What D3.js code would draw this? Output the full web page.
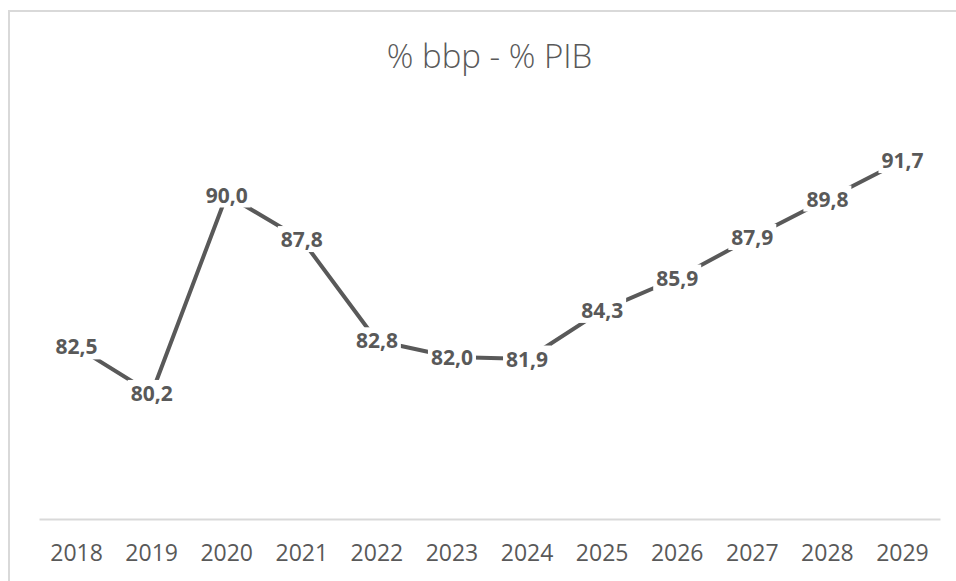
<!DOCTYPE html>
<html>
<head>
<meta charset="utf-8">
<script src="https://cdn.jsdelivr.net/npm/d3@7"></script>
<style>
  html, body { margin: 0; padding: 0; background: white; }
  svg { display: block; font-family: 'Open Sans', sans-serif; }
</style>
</head>
<body>
<div id="chart"></div>
<script>
const years = ['2018', '2019', '2020', '2021', '2022', '2023', '2024', '2025', '2026', '2027', '2028', '2029'];
const values = [82.5, 80.2, 90.0, 87.8, 82.8, 82.0, 81.9, 84.3, 85.9, 87.9, 89.8, 91.7];
const title = '% bbp - % PIB';

const svgWidth = 956;
const svgHeight = 581;

//plot area inside the chart frame
const plot = {left: 39, right: 940, top: 114, bottom: 519};

const textColor = '#595959';
const gridColor = '#d9d9d9';

const svg = d3.select('#chart')
              .append('svg')
              .attr('width', svgWidth)
              .attr('height', svgHeight);

//chart frame, runs off the right and bottom of the page
svg.append('rect')
   .attr('x', 9)
   .attr('y', 11)
   .attr('width', 1000)
   .attr('height', 1000)
   .attr('fill', 'white')
   .attr('stroke', gridColor)
   .attr('stroke-width', 2);

const xScale = d3.scaleBand().domain(years).range([plot.left, plot.right]);
const yScale = d3.scaleLinear().domain([74, 94]).range([plot.bottom, plot.top]);
const xCenter = d => xScale(d) + xScale.bandwidth() / 2;

//title
svg.append('text')
   .text(title)
   .attr('x', (plot.left + plot.right) / 2)
   .attr('y', 68)
   .attr('text-anchor', 'middle')
   .attr('fill', textColor)
   .style('font-size', '33px')
   .style('font-weight', 300);

//x axis, line only, labels below
const xAxis = d3.axisBottom(xScale).tickSize(0).tickPadding(26);
const axisG = svg.append('g')
                 .attr('transform', `translate(0,${plot.bottom})`)
                 .call(xAxis);
axisG.select('.domain').attr('stroke', gridColor).attr('stroke-width', 2);
axisG.selectAll('.tick text')
     .attr('fill', textColor)
     .style('font-size', '23px')
     .style('font-family', "'Open Sans', sans-serif");

//series line
const line = d3.line()
               .x((d, i) => xCenter(years[i]))
               .y(d => yScale(d));

svg.append('path')
   .datum(values)
   .attr('d', line)
   .attr('fill', 'none')
   .attr('stroke', textColor)
   .attr('stroke-width', 4)
   .attr('stroke-linejoin', 'round');

//data labels centred on points, white box hides the line under them
const labelSize = 21;
const fmt = v => d3.format('.1f')(v).replace('.', ',');

const labels = svg.append('g')
                  .selectAll('g')
                  .data(values)
                  .join('g')
                  .attr('transform', (d, i) => `translate(${xCenter(years[i])},${yScale(d)})`);

labels.append('rect').attr('fill', 'white');

labels.append('text')
      .text(d => fmt(d))
      .attr('text-anchor', 'middle')
      .attr('y', 0.357 * labelSize)
      .attr('fill', textColor)
      .style('font-size', labelSize + 'px')
      .style('font-weight', 700);

labels.each(function(){
  const g = d3.select(this);
  const box = g.select('text').node().getBBox();
  g.select('rect')
   .attr('x', box.x - 3)
   .attr('y', box.y + 1)
   .attr('width', box.width + 6)
   .attr('height', box.height - 2);
});
</script>
</body>
</html>
